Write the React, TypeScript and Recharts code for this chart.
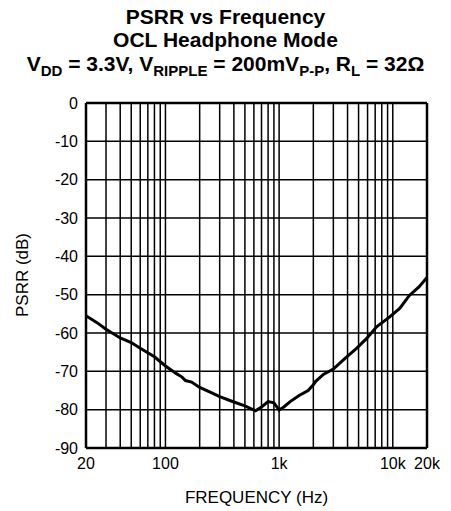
import { CartesianGrid, Line, LineChart, ReferenceLine, XAxis, YAxis } from 'recharts';

const freqs = [
  20, 25, 30, 40, 50, 60, 80, 100, 125, 140, 150, 170, 200, 250, 300, 400, 500, 620, 700, 800,
  900, 1000, 1100, 1250, 1500, 1800, 2000, 2100, 2450, 3000, 3800, 4800, 5900, 7200, 9400,
  11500, 14000, 17000, 20000,
];
const psrr = [
  -55.5, -57.3, -59.0, -61.3, -62.5, -64.0, -66.2, -68.6, -70.6, -71.5, -72.4, -72.8, -74.2,
  -75.5, -76.6, -78.0, -79.0, -80.3, -79.3, -77.9, -78.2, -80.1, -79.3, -77.9, -76.3, -75.0,
  -73.5, -72.6, -70.8, -69.4, -66.6, -64.0, -61.4, -58.4, -55.8, -53.6, -50.2, -48.0, -45.5,
];

const xTicks = [20, 100, 1000, 10000, 20000];
const xTickLabels = ['20', '100', '1k', '10k', '20k'];
const yTicks = [0, -10, -20, -30, -40, -50, -60, -70, -80, -90];
const gridFreqs = [
  30, 40, 50, 60, 70, 80, 90, 100, 200, 300, 400, 500, 600, 700, 800, 900, 1000, 2000, 3000,
  4000, 5000, 6000, 7000, 8000, 9000, 10000,
];

const data = freqs.map((f, i) => ({ f, db: psrr[i] }));

const font = '"Liberation Sans", Arial, Helvetica, sans-serif';
const sub = { fontSize: 15, verticalAlign: '-0.3em' } as const;

export default function App() {
  return (
    <div
      style={{
        position: 'absolute',
        left: 0,
        top: 0,
        width: 451,
        height: 511,
        background: '#fff',
        fontFamily: font,
        color: '#000',
      }}
    >
      <div
        style={{
          position: 'absolute',
          left: 0,
          top: 5,
          width: 451,
          textAlign: 'center',
          fontWeight: 'bold',
          fontSize: 21,
          lineHeight: '23px',
        }}
      >
        <div>PSRR vs Frequency</div>
        <div>OCL Headphone Mode</div>
        <div style={{ marginTop: 1 }}>
          V<span style={sub}>DD</span> = 3.3V, V<span style={sub}>RIPPLE</span> = 200mV
          <span style={sub}>P-P</span>, R<span style={sub}>L</span> = 32Ω
        </div>
      </div>

      <div
        style={{
          position: 'absolute',
          left: 23,
          top: 275,
          transform: 'translate(-50%, -50%) rotate(-90deg)',
          fontSize: 17,
          whiteSpace: 'nowrap',
        }}
      >
        PSRR (dB)
      </div>

      <div style={{ position: 'absolute', left: 0, top: 0 }}>
        <LineChart width={451} height={511} data={data} margin={{ top: 103, right: 24, bottom: 0, left: 0 }}>
          <CartesianGrid horizontal vertical={false} stroke="#000" strokeWidth={1.5} strokeOpacity={1} />
          {gridFreqs.map((f) => (
            <ReferenceLine key={f} x={f} stroke="#000" strokeWidth={1.5} />
          ))}
          <ReferenceLine x={20} stroke="#000" strokeWidth={2.5} />
          <ReferenceLine x={20000} stroke="#000" strokeWidth={2.5} />
          <ReferenceLine y={0} stroke="#000" strokeWidth={2.5} />
          <ReferenceLine y={-90} stroke="#000" strokeWidth={2.5} />
          <XAxis
            dataKey="f"
            type="number"
            scale="log"
            domain={[20, 20000]}
            ticks={xTicks}
            tickFormatter={(v) => xTickLabels[xTicks.indexOf(v)] ?? String(v)}
            allowDataOverflow
            height={63}
            axisLine={false}
            tickLine={false}
            tickSize={0}
            tickMargin={10}
            interval={0}
            tick={{ fill: '#000', fontSize: 16, fontFamily: font }}
            label={{
              value: 'FREQUENCY (Hz)',
              position: 'insideBottom',
              offset: 8,
              fill: '#000',
              fontSize: 17,
              fontFamily: font,
            }}
          />
          <YAxis
            type="number"
            domain={[-90, 0]}
            ticks={yTicks}
            width={86}
            axisLine={false}
            tickLine={false}
            tickSize={0}
            tickMargin={8}
            interval={0}
            tick={{ fill: '#000', fontSize: 16, fontFamily: font }}
          />
          <Line
            dataKey="db"
            type="linear"
            stroke="#000"
            strokeWidth={3}
            dot={false}
            isAnimationActive={false}
          />
        </LineChart>
      </div>
    </div>
  );
}
